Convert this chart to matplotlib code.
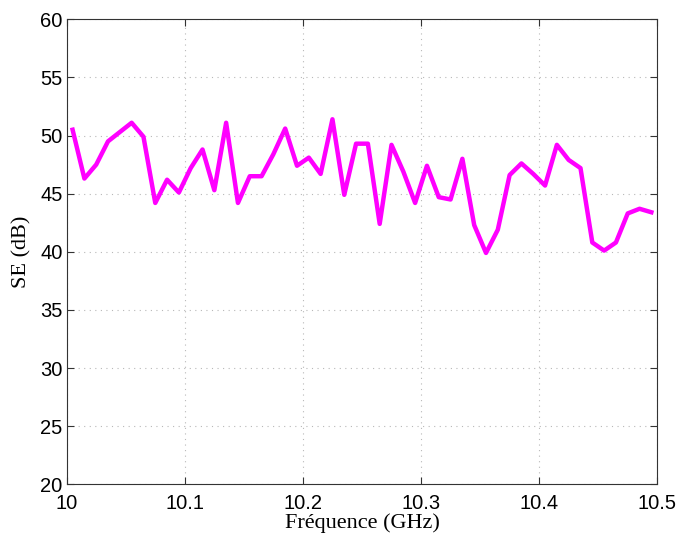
import matplotlib
matplotlib.use('Agg')
import matplotlib.pyplot as plt

# Frequency points (GHz) and shielding effectiveness (dB)
freq = [10.005, 10.015, 10.025, 10.035, 10.045, 10.055, 10.065, 10.075, 10.085, 10.095,
        10.105, 10.115, 10.125, 10.135, 10.145, 10.155, 10.165, 10.175, 10.185, 10.195,
        10.205, 10.215, 10.225, 10.235, 10.245, 10.255, 10.265, 10.275, 10.285, 10.295,
        10.305, 10.315, 10.325, 10.335, 10.345, 10.355, 10.365, 10.375, 10.385, 10.395,
        10.405, 10.415, 10.425, 10.435, 10.445, 10.455, 10.465, 10.475, 10.485, 10.495]
se = [50.5, 46.3, 47.5, 49.5, 50.3, 51.1, 49.9, 44.2, 46.2, 45.1,
      47.2, 48.8, 45.3, 51.1, 44.2, 46.5, 46.5, 48.4, 50.6, 47.4,
      48.1, 46.7, 51.4, 44.9, 49.3, 49.3, 42.4, 49.2, 46.9, 44.2,
      47.4, 44.7, 44.5, 48.0, 42.3, 39.9, 41.9, 46.6, 47.6, 46.7,
      45.7, 49.2, 47.9, 47.2, 40.8, 40.1, 40.8, 43.3, 43.7, 43.4]

fig = plt.figure(figsize=(6.79, 5.33), dpi=100)
ax = fig.add_axes([0.0982, 0.0914, 0.8698, 0.8724])

ax.plot(freq, se, color='#ff00ff', linewidth=3.2)

ax.set_xlim(10, 10.5)
ax.set_ylim(20, 60)
ax.set_xticks([10, 10.1, 10.2, 10.3, 10.4, 10.5])
ax.set_xticklabels(['10', '10.1', '10.2', '10.3', '10.4', '10.5'])
ax.set_yticks(range(20, 61, 5))

# dotted grid like the original
ax.grid(True, color='#b8b8b8', linestyle=(0, (1, 4)), linewidth=0.8)

for s in ax.spines.values():
    s.set_color('#333333')
    s.set_linewidth(0.8)

ax.tick_params(direction='in', top=True, right=True, length=5, width=0.8,
               color='#333333', labelsize=14.5)
ax.tick_params(axis='x', pad=7)
ax.tick_params(axis='y', pad=3)
for lab in ax.get_xticklabels() + ax.get_yticklabels():
    lab.set_family(['Liberation Sans', 'DejaVu Sans'])

ax.set_xlabel('Fréquence (GHz)', family=['Liberation Serif', 'DejaVu Serif'],
              fontsize=16, labelpad=0)
ax.set_ylabel('SE (dB)', family=['Liberation Serif', 'DejaVu Serif'],
              fontsize=16, labelpad=6)

fig.savefig('out.png', dpi=100)
